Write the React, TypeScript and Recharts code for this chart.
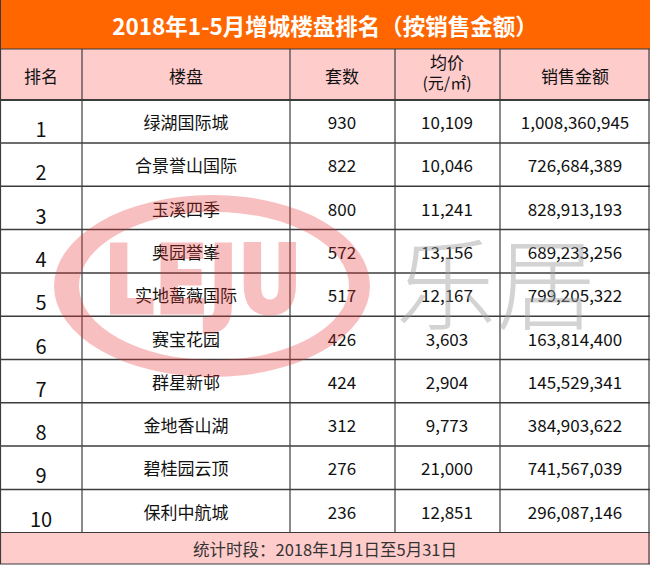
import React from 'react';
import { BarChart, Bar, XAxis, YAxis } from 'recharts';

const ranks = [1, 2, 3, 4, 5, 6, 7, 8, 9, 10];
const names = ['绿湖国际城', '合景誉山国际', '玉溪四季', '奥园誉峯', '实地蔷薇国际', '赛宝花园', '群星新邨', '金地香山湖', '碧桂园云顶', '保利中航城'];
const counts = [930, 822, 800, 572, 517, 426, 424, 312, 276, 236];
const prices = [10109, 10046, 11241, 13156, 12167, 3603, 2904, 9773, 21000, 12851];
const sales = [1008360945, 726684389, 828913193, 689233256, 799205322, 163814400, 145529341, 384903622, 741567039, 296087146];
const headers = ['排名', '楼盘', '套数', '均价', '销售金额'];
const priceUnit = '(元/㎡)';
const title = '2018年1-5月增城楼盘排名（按销售金额）';
const footer = '统计时段：2018年1月1日至5月31日';

const W = 650;
const H = 565;
const TITLE_H = 49;
const HEAD_B = 100;
const ROWS_B = 533;
const FOOT_B = 564;
const EDGES = [0.5, 82, 290, 395, 500, 649];
const CENTERS = [41, 186, 342, 447, 575];
const FONT = '"Noto Sans CJK SC", "Noto Sans", sans-serif';
const LINE = '#3c3c3c';

const data = ranks.map((r, i) => ({
  rank: r,
  name: names[i],
  count: counts[i],
  price: prices[i],
  sales: sales[i],
}));

const fmt = (v: number) => v.toLocaleString('en-US');

const RowShape = (props: any) => {
  const { y, height, payload } = props;
  const bottom = y + height;
  const mid = y + height / 2;
  const cells = [payload.name, String(payload.count), fmt(payload.price), fmt(payload.sales)];
  return (
    <g>
      <line x1={0} x2={W} y1={bottom} y2={bottom} stroke={LINE} strokeWidth={1.5} />
      {EDGES.map((x, i) => (
        <line key={i} x1={x} x2={x} y1={y} y2={bottom} stroke={LINE} strokeWidth={1.2} />
      ))}
      <text x={CENTERS[0]} y={bottom - 6} textAnchor="middle" fontSize={20} fontFamily={FONT} fill="#111">
        {payload.rank}
      </text>
      {cells.map((c, i) => (
        <text key={i} x={CENTERS[i + 1]} y={mid} dominantBaseline="central" textAnchor="middle" fontSize={17} fontFamily={FONT} fill="#111">
          {c}
        </text>
      ))}
    </g>
  );
};

const ringPath = (cx: number, cy: number, rx: number, ry: number, icx: number, icy: number, irx: number, iry: number) =>
  `M ${cx - rx} ${cy} A ${rx} ${ry} 0 1 0 ${cx + rx} ${cy} A ${rx} ${ry} 0 1 0 ${cx - rx} ${cy} Z ` +
  `M ${icx - irx} ${icy} A ${irx} ${iry} 0 1 0 ${icx + irx} ${icy} A ${irx} ${iry} 0 1 0 ${icx - irx} ${icy} Z`;

export default function App() {
  return (
    <div style={{ position: 'absolute', left: 0, top: 0, width: W, height: H, background: '#fff' }}>
      <BarChart
        width={W}
        height={H}
        data={data}
        layout="vertical"
        margin={{ top: HEAD_B, right: 0, bottom: H - ROWS_B, left: 0 }}
        barCategoryGap={0}
      >
        <XAxis type="number" hide domain={[0, 'dataMax']} />
        <YAxis type="category" dataKey="rank" hide />
        <Bar dataKey="count" isAnimationActive={false} shape={RowShape} />
      </BarChart>
      <svg width={W} height={H} style={{ position: 'absolute', left: 0, top: 0, pointerEvents: 'none' }}>
        {/* title */}
        <rect x={0} y={0} width={W} height={TITLE_H} fill="#FF6600" />
        <line x1={0.5} x2={0.5} y1={0} y2={TITLE_H} stroke={LINE} />
        <text x={W / 2} y={25} dominantBaseline="central" textAnchor="middle" fontSize={22.5} fontWeight={700} fontFamily={FONT} fill="#fff">
          {title}
        </text>
        {/* header */}
        <rect x={0} y={TITLE_H} width={W} height={HEAD_B - TITLE_H} fill="#FFCCCC" />
        <line x1={0} x2={W} y1={TITLE_H} y2={TITLE_H} stroke={LINE} strokeWidth={1.2} />
        <line x1={0} x2={W} y1={HEAD_B} y2={HEAD_B} stroke={LINE} strokeWidth={2} />
        {EDGES.map((x, i) => (
          <line key={i} x1={x} x2={x} y1={TITLE_H} y2={HEAD_B} stroke={LINE} strokeWidth={1.2} />
        ))}
        {headers.map((h, i) =>
          i === 3 ? (
            <g key={i}>
              <text x={CENTERS[i]} y={61} dominantBaseline="central" textAnchor="middle" fontSize={17} fontFamily={FONT} fill="#111">
                {h}
              </text>
              <text x={CENTERS[i]} y={82} dominantBaseline="central" textAnchor="middle" fontSize={16} fontFamily={FONT} fill="#111">
                {priceUnit}
              </text>
            </g>
          ) : (
            <text key={i} x={CENTERS[i]} y={75} dominantBaseline="central" textAnchor="middle" fontSize={17} fontFamily={FONT} fill="#111">
              {h}
            </text>
          )
        )}
        {/* footer */}
        <rect x={0} y={ROWS_B} width={W} height={FOOT_B - ROWS_B} fill="#FFCCCC" />
        <line x1={0} x2={W} y1={FOOT_B} y2={FOOT_B} stroke={LINE} strokeWidth={1.2} />
        <line x1={0.5} x2={0.5} y1={ROWS_B} y2={FOOT_B} stroke={LINE} strokeWidth={1.2} />
        <line x1={649} x2={649} y1={ROWS_B} y2={FOOT_B} stroke={LINE} strokeWidth={1.2} />
        <text x={W / 2} y={549} dominantBaseline="central" textAnchor="middle" fontSize={16.5} fontFamily={FONT} fill="#333">
          {footer}
        </text>
        {/* watermark */}
        <g opacity={0.3}>
          <path d={ringPath(212, 286, 158, 91, 214, 286, 135, 74)} fill="#E8302E" fillRule="evenodd" />
          <text x={203} y={313} textAnchor="middle" fontSize={95} fontWeight={700} fontFamily='"DejaVu Sans", sans-serif' fill="#E8302E" stroke="#E8302E" strokeWidth={3} textLength={198} lengthAdjust="spacingAndGlyphs">
            LEJU
          </text>
        </g>
        <text x={396} y={322} fontSize={100} fontWeight={300} fontFamily={FONT} fill="#a0a0a0" opacity={0.45}>
          乐居
        </text>
      </svg>
    </div>
  );
}
